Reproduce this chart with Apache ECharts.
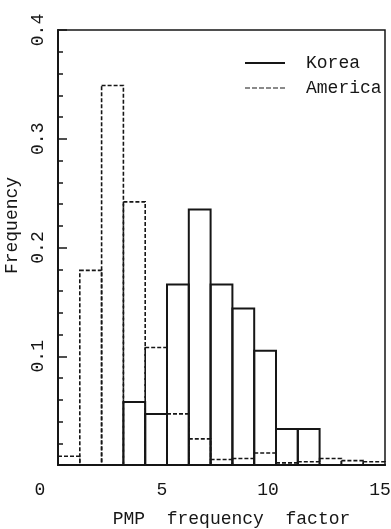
<!DOCTYPE html>
<html><head><meta charset="utf-8">
<script src="https://cdn.jsdelivr.net/npm/echarts@6/dist/echarts.min.js"></script>
<style>html,body{margin:0;padding:0;background:#fff}#c{width:391px;height:529px}</style>
</head><body><div id="c"></div>
<script>
const binEdges = [0,1,2,3,4,5,6,7,8,9,10,11,12,13,14,15];
const korea   = [0,0,0,0.058,0.047,0.166,0.235,0.166,0.144,0.105,0.033,0.033,0,0,0];
const america = [0.008,0.179,0.349,0.242,0.108,0.047,0.024,0.005,0.006,0.011,0.002,0.003,0.006,0.004,0.003];
const xTicks = [0,5,10,15];
const yTicks = [0.1,0.2,0.3,0.4];
const seriesNames = ['Korea','America'];

const FONT = 'Liberation Mono';
const INK = '#161616';

function toData(vals){
  const out = [];
  vals.forEach((v,i)=>{ if(v>0) out.push([binEdges[i], binEdges[i+1], v]); });
  return out;
}
function makeRender(dash, lw){
  return function(params, api){
    const p0 = api.coord([api.value(0), api.value(2)]);
    const p1 = api.coord([api.value(1), 0]);
    return {
      type:'rect',
      shape:{x:p0[0], y:p0[1], width:p1[0]-p0[0], height:p1[1]-p0[1]},
      style:{fill:'none', stroke:INK, lineWidth:lw, lineDash:dash}
    };
  };
}
const xShift = {0:18, 5:5, 10:8, 15:5};
const chart = echarts.init(document.getElementById('c'));
chart.setOption({
  animation:false,
  backgroundColor:'#fff',
  grid:{left:58, top:30, right:6, bottom:64, show:true, borderColor:INK, borderWidth:1.5,
        containLabel:false, outerBoundsMode:'none'},
  legend:{
    orient:'vertical', left:245, top:54, itemGap:7, padding:0,
    itemWidth:40, itemHeight:2,
    textStyle:{fontFamily:FONT, fontSize:18, color:INK, padding:[0,0,0,16]},
    data:[
      {name:seriesNames[0], icon:'rect'},
      {name:seriesNames[1], icon:'path://M0,0h5v1h-5zM7,0h5v1h-5zM14,0h5v1h-5zM21,0h5v1h-5zM28,0h5v1h-5zM35,0h5v1h-5z'}
    ]
  },
  xAxis:{
    type:'value', min:0, max:15, interval:5,
    name:'PMP  frequency  factor', nameLocation:'middle', nameGap:45,
    nameTextStyle:{fontFamily:FONT, fontSize:18, color:INK, padding:[0,0,0,20]},
    axisLine:{show:true, lineStyle:{color:INK, width:2}},
    axisTick:{show:false},
    splitLine:{show:false},
    axisLabel:{
      fontFamily:FONT, fontSize:18, color:INK, margin:16,
      formatter:function(v){ return '{s'+v+'|'+v+'}'; },
      rich:(function(){ const r={}; xTicks.forEach(t=>{ r['s'+t]={fontFamily:FONT,fontSize:18,color:INK,padding:[0,2*xShift[t],0,0]}; }); return r; })()
    }
  },
  yAxis:{
    type:'value', min:0, max:0.4, interval:0.1,
    name:'Frequency', nameLocation:'middle', nameGap:36, nameRotate:90,
    nameTextStyle:{fontFamily:FONT, fontSize:18, color:INK, padding:[0,0,0,44]},
    axisLine:{show:true, lineStyle:{color:INK, width:2}},
    axisTick:{show:true, inside:true, length:9, lineStyle:{color:INK, width:1.5}},
    minorTick:{show:true, splitNumber:5, length:5, lineStyle:{color:INK, width:1.5}},
    splitLine:{show:false},
    axisLabel:{
      rotate:90, fontFamily:FONT, fontSize:18, color:INK, margin:11, showMinLabel:false,
      formatter:function(v){ return yTicks.some(t=>Math.abs(t-v)<1e-9) ? v.toFixed(1) : ''; }
    }
  },
  series:[
    {name:seriesNames[0], type:'custom', itemStyle:{color:INK}, renderItem:makeRender(null, 2),
     encode:{x:[0,1], y:2}, data:toData(korea)},
    {name:seriesNames[1], type:'custom', itemStyle:{color:INK}, renderItem:makeRender([4,2], 1.6),
     encode:{x:[0,1], y:2}, data:toData(america)}
  ]
});
</script></body></html>
